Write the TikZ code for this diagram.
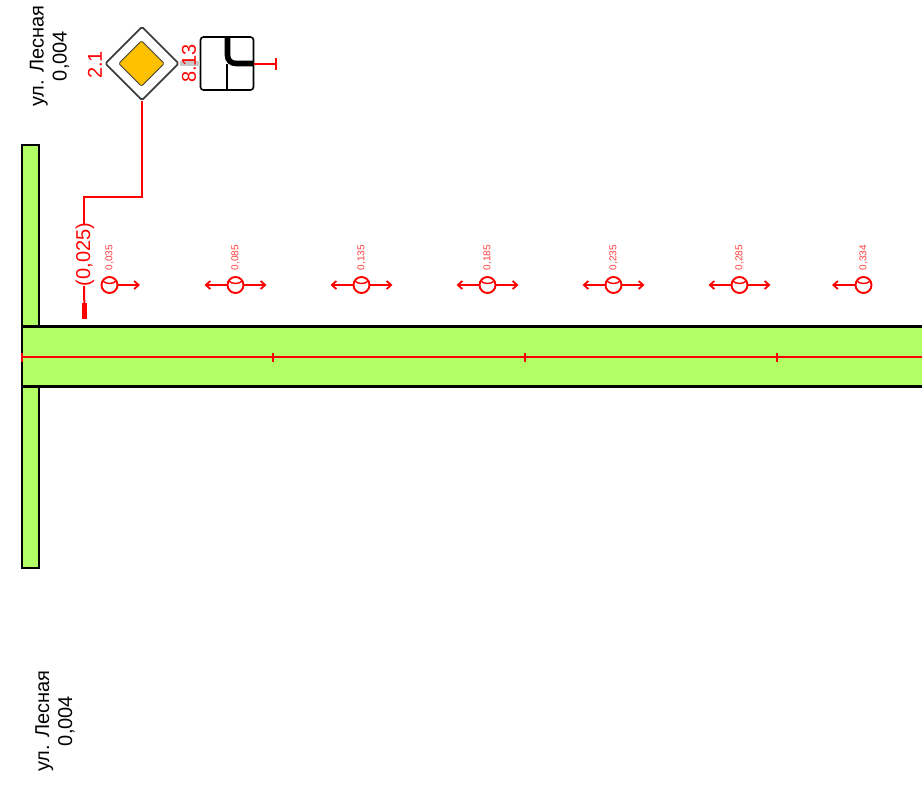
\documentclass[tikz,border=0pt]{standalone}
\usepackage{fontspec}
\setmainfont{Liberation Sans}
\usetikzlibrary{arrows.meta,shapes.geometric}
\definecolor{roadgreen}{HTML}{B2FF66}
\definecolor{signyellow}{HTML}{FFC000}
\definecolor{signred}{HTML}{FF1A1A}
\tikzset{
  road/.style={draw=black,line width=2.1pt,fill=roadgreen},
  redline/.style={draw=red,line width=2pt},
  bigtext/.style={font=\fontsize{20}{23}\selectfont,rotate=90,align=center,inner sep=0pt},
  redtext/.style={bigtext,text=red},
  smalltext/.style={font=\fontsize{10}{11}\selectfont,rotate=90,text=signred!85,inner sep=0pt},
  marker/.style={circle,draw=red,line width=1.9pt,minimum size=16pt,inner sep=0pt},
  arrowline/.style={draw=red,line width=2pt,-{Straight Barb[length=4.5pt,width=8pt,line width=1.8pt]}},
  tick/.style={draw=red,line width=1.8pt},
}
\newcommand{\mkarc}[1]{\draw[red,line width=1.4pt] ([shift={(-7,-4.2)}]#1.center) .. controls ([shift={(-3.5,-0.6)}]#1.center) and ([shift={(3.5,-0.6)}]#1.center) .. ([shift={(7,-4.2)}]#1.center);}
\begin{document}
\begin{tikzpicture}[x=1pt,y=-1pt]
\useasboundingbox (0,0) rectangle (922,787);
% roads
\draw[road] (22,145) rectangle (39,568);
\draw[road] (22,326.5) rectangle (930,386.5);
\coordinate (cl0) at (22,357);
\coordinate (cl1) at (922,357);
\draw[redline] (cl0) -- (cl1);
\foreach \tx in {22,273,525,777} \draw[tick] (\tx,352.5) -- (\tx,361.5);
% street labels
\node[bigtext] (streetTop) at (49.5,56) {ул. Лесная\\0,004};
\node[bigtext] (streetBottom) at (55,721) {ул. Лесная\\0,004};
% signs
\node[diamond,draw=black!75,line width=1.8pt,fill=white,minimum width=74pt,minimum height=74pt,inner sep=0pt,rounded corners=1.5pt] (signOuter) at (142,63.5) {};
\node[rectangle,draw=black,line width=1.6pt,fill=white,minimum width=53pt,minimum height=53pt,rounded corners=3pt,inner sep=0pt] (plate) at (227,63.5) {};
\draw[black!22,line width=5pt] (signOuter.east) -- (plate.west);
\node[diamond,draw=black!75,line width=0.9pt,fill=signyellow,minimum width=46pt,minimum height=46pt,inner sep=0pt,rounded corners=1.5pt] (signInner) at (141.5,63.5) {};
% plate
\draw[black,line width=1.5pt] (226.8,64) -- (226.8,90);
\draw[black,line width=5.6pt] (227.5,37.5) -- (227.5,55) .. controls (227.5,60.5) and (231,63.5) .. (236.5,63.5) -- (253,63.5);
\coordinate (plateEnd) at (276,63.5);
\draw[redline] (plate.east |- plateEnd) -- (plateEnd);
\draw[redline] (276,57.5) -- (276,69.5);
% sign labels
\node[redtext] (lblA) at (95,65) {2.1};
\node[redtext] (lblB) at (189,63.5) {8.13};
% pole to the start
\coordinate (bend1) at (142,197);
\coordinate (bend2) at (84,197);
\node[redtext] (dist) at (85,254.5) {(0,025)};
\draw[redline] (signOuter.south) -- (bend1) -- (bend2) -- (84,223.5);
\node[fill=red,minimum width=4.5pt,minimum height=16pt,inner sep=0pt,anchor=north] (stop) at (84.3,303) {};
\draw[redline] (84,286) -- (stop.north);
% markers
\foreach \n/\mx/\lab in {a/109.5/0{,}035,b/235.5/0{,}085,c/361.5/0{,}135,d/487.5/0{,}185,e/613.5/0{,}235,f/739.5/0{,}285,g/863.5/0{,}334}{
  \node[marker] (m\n) at (\mx,285) {};
  \mkarc{m\n}
  \node[smalltext] (t\n) at (\mx,257.5) {\lab};
}
\coordinate (ra) at (140,285);
\draw[arrowline] (ma.east) -- (ra);
\foreach \n/\mx in {b/235.5,c/361.5,d/487.5,e/613.5,f/739.5}{
  \coordinate (l\n) at ({\mx-31},285);
  \coordinate (r\n) at ({\mx+31},285);
  \draw[arrowline] (m\n.east) -- (r\n);
  \draw[arrowline] (m\n.west) -- (l\n);
}
\coordinate (lg) at (832,285);
\draw[arrowline] (mg.west) -- (lg);
\end{tikzpicture}
\end{document}
